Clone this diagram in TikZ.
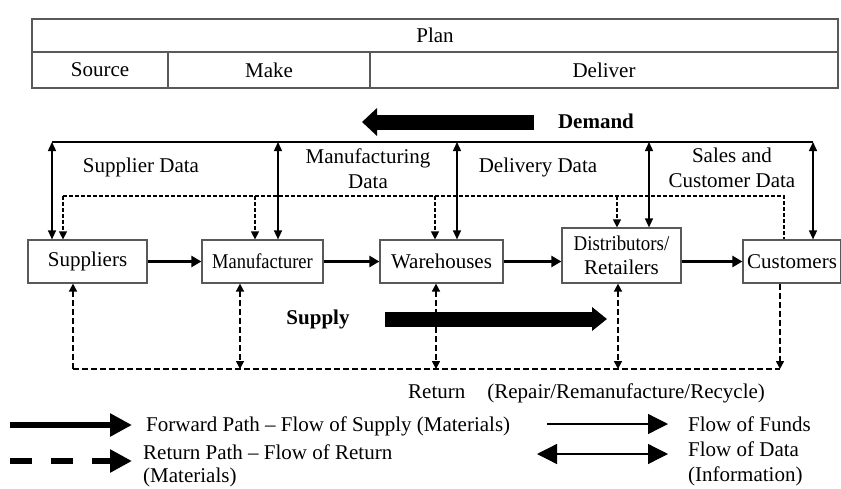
\documentclass[tikz,border=0pt]{standalone}
\usepackage{fontspec}
\usepackage{graphicx}
\setmainfont{Liberation Serif}
\usetikzlibrary{arrows.meta}
\begin{document}
\begin{tikzpicture}[x=1pt,y=-1pt,
  font=\fontsize{21}{25}\selectfont,
  frame/.style={draw=black!65,line width=1.2pt,inner sep=0pt,align=center},
  lbl/.style={inner sep=0pt,align=center},
  flow/.style={line width=2.6pt,-{Triangle[length=10pt,width=11pt]}},
  dataln/.style={line width=1.4pt},
  databoth/.style={line width=1.4pt,{Triangle[length=9pt,width=8pt]}-{Triangle[length=9pt,width=8pt]}},
  rettop/.style={line width=1.2pt,dash pattern=on 4pt off 2pt},
  retbot/.style={line width=1.6pt,dash pattern=on 6pt off 3pt},
  tipend/.style={-{Triangle[length=8pt,width=8pt]}},
  tipboth/.style={{Triangle[length=8pt,width=8pt]}-{Triangle[length=8pt,width=8pt]}},
  bigarrow/.style={line width=15pt,-{Triangle[length=15pt,width=27pt]}},
]
\useasboundingbox (0,0) rectangle (841,488);
\fill[white] (0,0) rectangle (841,488);

% SCOR header
\node[frame,minimum width=806pt,minimum height=33pt] (plan) at (435,35.5) {Plan};
\node[frame,minimum width=136pt,minimum height=36pt] (source) at (100,70) {Source};
\node[frame,minimum width=202pt,minimum height=36pt] (make) at (269,70) {Make};
\node[frame,minimum width=468pt,minimum height=36pt] (deliver) at (604,70) {Deliver};

% Demand arrow
\coordinate (dmS) at (534,122);
\coordinate (dmE) at (362,122);
\draw[bigarrow] (dmS) -- (dmE);
\node[lbl,font=\fontsize{21}{25}\selectfont\bfseries] (demand) at (596,121) {Demand};

% chain boxes
\node[frame,minimum width=119pt,minimum height=43pt] (sup) at (87.5,261.5) {Suppliers};
\node[frame,minimum width=121pt,minimum height=43pt] (man) at (262.5,261.5) {\scalebox{0.88}[1]{Manufacturer}};
\node[frame,minimum width=123pt,minimum height=43pt] (war) at (441.5,261.5) {Warehouses};
\node[frame,minimum width=119pt,minimum height=55pt,font=\fontsize{21}{24}\selectfont] (dis) at (621.5,255.5) {\scalebox{0.9}[1]{Distributors/}\\Retailers};
\node[frame,minimum width=98pt,minimum height=43pt] (cus) at (792,261.5) {Customers};

\draw[flow] (sup) -- (man);
\draw[flow] (man) -- (war);
\draw[flow] (war.east) -- (war.east -| dis.west);
\draw[flow] (dis.east |- cus.west) -- (cus.west);

% data lines (solid, double headed)
\coordinate (a1) at (52,142);
\coordinate (a2) at (278,142);
\coordinate (a3) at (457,142);
\coordinate (a4) at (649,142);
\coordinate (a5) at (813,142);
\draw[dataln] (a1) -- (a5);
\draw[databoth] (a1) -- (a1 |- sup.north);
\draw[databoth] (a2) -- (a2 |- man.north);
\draw[databoth] (a3) -- (a3 |- war.north);
\draw[databoth] (a4) -- (a4 |- dis.north);
\draw[databoth] (a5) -- (a5 |- cus.north);

\node[lbl] (supdata) at (141,167) {Supplier Data};
\node[lbl] (mandata) at (368,169) {Manufacturing\\Data};
\node[lbl] (deldata) at (538,167) {Delivery Data};
\node[lbl] (saldata) at (732,168) {Sales and\\Customer Data};

% dashed funds lines (top)
\coordinate (d1) at (63,196);
\coordinate (d2) at (255,196);
\coordinate (d3) at (435,196);
\coordinate (d4) at (617,196);
\coordinate (d5) at (784,196);
\draw[rettop] (d1) -- (d5) -- (d5 |- cus.north);
\draw[rettop,tipend] (d1) -- (d1 |- sup.north);
\draw[rettop,tipend] (d2) -- (d2 |- man.north);
\draw[rettop,tipend] (d3) -- (d3 |- war.north);
\draw[rettop,tipend] (d4) -- (d4 |- dis.north);

% return lines (bottom)
\coordinate (b1) at (73,369);
\coordinate (b2) at (240,369);
\coordinate (b3) at (436,369);
\coordinate (b4) at (618,369);
\coordinate (b5) at (780,369);
\draw[retbot] (b1) -- (b5);
\draw[retbot,tipend] (b1) -- (b1 |- sup.south);
\draw[retbot,tipboth] (b2 |- man.south) -- (b2);
\draw[retbot,tipboth] (b3 |- war.south) -- (b3);
\draw[retbot,tipboth] (b4 |- dis.south) -- (b4);
\draw[retbot,tipend] (b5 |- cus.south) -- (b5);

% Supply arrow
\coordinate (spS) at (385,319);
\coordinate (spE) at (607,319);
\draw[line width=15pt,-{Triangle[length=15pt,width=23pt]}] (spS) -- (spE);
\node[lbl,font=\fontsize{21}{25}\selectfont\bfseries] (supply) at (318,319) {Supply};

\node[lbl,anchor=west] (return) at (408,393) {Return\hspace{22pt}(Repair/Remanufacture/Recycle)};

% legend
\coordinate (l1s) at (10,425);
\coordinate (l1e) at (132,425);
\draw[line width=6pt,-{Triangle[length=22pt,width=22pt]}] (l1s) -- (l1e);
\node[lbl,anchor=west] (fwd) at (146,426) {Forward Path -- Flow of Supply (Materials)};

\coordinate (l2s) at (10,461);
\coordinate (l2e) at (132,461);
\draw[line width=6pt,dash pattern=on 22pt off 19pt,-{Triangle[length=22pt,width=22pt]}] (l2s) -- (l2e);
\node[lbl,anchor=west,align=left,font=\fontsize{21}{23}\selectfont] (rtn) at (143,466) {Return Path -- Flow of Return\\(Materials)};

\coordinate (l3s) at (547,424);
\coordinate (l3e) at (668,424);
\draw[line width=1.3pt,-{Triangle[length=20pt,width=20pt]}] (l3s) -- (l3e);
\node[lbl,anchor=west] (funds) at (688,424) {Flow of Funds};

\coordinate (l4s) at (537,454);
\coordinate (l4e) at (668,454);
\draw[line width=1.3pt,{Triangle[length=20pt,width=20pt]}-{Triangle[length=20pt,width=20pt]}] (l4s) -- (l4e);
\node[lbl,anchor=west,align=left] (fdata) at (688,464) {Flow of Data\\(Information)};
\end{tikzpicture}
\end{document}
